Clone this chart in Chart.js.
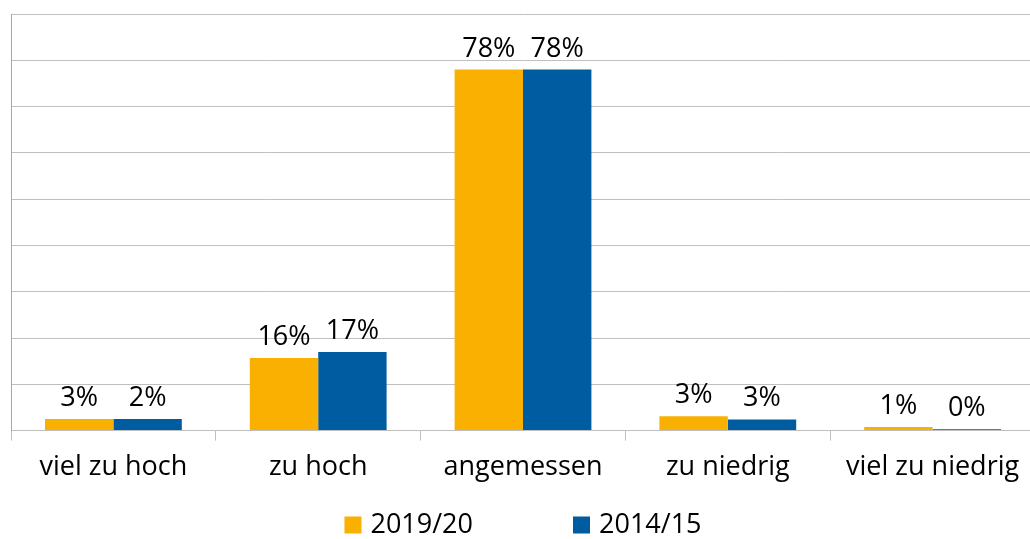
<!DOCTYPE html>
<html>
<head>
<meta charset="utf-8">
<script src="https://cdn.jsdelivr.net/npm/chart.js@4/dist/chart.umd.min.js"></script>
<style>
html,body{margin:0;padding:0;background:#fff;overflow:hidden;}
#wrap{width:1035px;height:539px;position:relative;}
</style>
</head>
<body>
<div id="wrap"><canvas id="c" width="1035" height="539"></canvas></div>
<script>
const categories = ["viel zu hoch", "zu hoch", "angemessen", "zu niedrig", "viel zu niedrig"];
const seriesNames = ["2019/20", "2014/15"];
const seriesColors = ["#F9B000", "#005CA0"];
const values2019 = [2.5, 15.7, 78.0, 3.1, 0.8];
const values2014 = [2.5, 17.0, 78.0, 2.4, 0.3];
const labels2019 = ["3%", "16%", "78%", "3%", "1%"];
const labels2014 = ["2%", "17%", "78%", "3%", "0%"];
const yTicks = [0, 10, 20, 30, 40, 50, 60, 70, 80, 90];

const FONT = "'Open Sans', 'Noto Sans', sans-serif";
const FS = 27;

const valueLabelPlugin = {
  id: 'valueLabels',
  afterDatasetsDraw(chart) {
    const ctx = chart.ctx;
    ctx.save();
    ctx.font = FS + "px " + FONT;
    ctx.fillStyle = "#000";
    ctx.textAlign = "center";
    ctx.textBaseline = "alphabetic";
    chart.data.datasets.forEach((ds, i) => {
      const meta = chart.getDatasetMeta(i);
      meta.data.forEach((bar, j) => {
        ctx.fillText(ds.valueLabels[j], bar.x, bar.y - 13);
      });
    });
    ctx.restore();
  }
};

const legendPlugin = {
  id: 'customLegend',
  afterDraw(chart) {
    const ctx = chart.ctx;
    ctx.save();
    ctx.font = FS + "px " + FONT;
    ctx.textBaseline = "middle";
    ctx.textAlign = "left";
    const box = 17, textGap = 9, itemGap = 100;
    const widths = chart.data.datasets.map(ds => ctx.measureText(ds.label).width);
    let total = 0;
    widths.forEach((w, i) => { total += box + textGap + w + (i < widths.length - 1 ? itemGap : 0); });
    const ca = chart.chartArea;
    let x = (ca.left + ca.right) / 2 - total / 2;
    const cy = 525;
    chart.data.datasets.forEach((ds, i) => {
      ctx.fillStyle = ds.backgroundColor;
      ctx.fillRect(x, cy - box / 2, box, box);
      ctx.fillStyle = "#000";
      ctx.fillText(ds.label, x + box + textGap, cy);
      x += box + textGap + widths[i] + itemGap;
    });
    ctx.restore();
  }
};

new Chart(document.getElementById('c'), {
  type: 'bar',
  data: {
    labels: categories,
    datasets: [
      { label: seriesNames[0], data: values2019, valueLabels: labels2019, backgroundColor: seriesColors[0] },
      { label: seriesNames[1], data: values2014, valueLabels: labels2014, backgroundColor: seriesColors[1] }
    ]
  },
  options: {
    responsive: false,
    animation: false,
    devicePixelRatio: 1,
    layout: { padding: { left: 11, top: 14, right: 0, bottom: 44 } },
    datasets: { bar: { categoryPercentage: 0.668, barPercentage: 1.0 } },
    plugins: {
      legend: { display: false },
      tooltip: { enabled: false }
    },
    scales: {
      x: {
        offset: true,
        grid: { display: true, drawOnChartArea: false, drawTicks: true, tickLength: 10, color: '#bfbfbf', offset: true },
        border: { display: true, color: '#bfbfbf' },
        ticks: { font: { family: FONT, size: FS }, color: '#000', padding: 11, maxRotation: 0 }
      },
      y: {
        min: 0, max: 90,
        afterBuildTicks(axis) { axis.ticks = yTicks.map(v => ({ value: v })); },
        grid: { color: '#c0c0c0', drawTicks: false },
        border: { display: true, color: '#a6a6a6' },
        ticks: { display: false }
      }
    }
  },
  plugins: [valueLabelPlugin, legendPlugin]
});
</script>
</body>
</html>
